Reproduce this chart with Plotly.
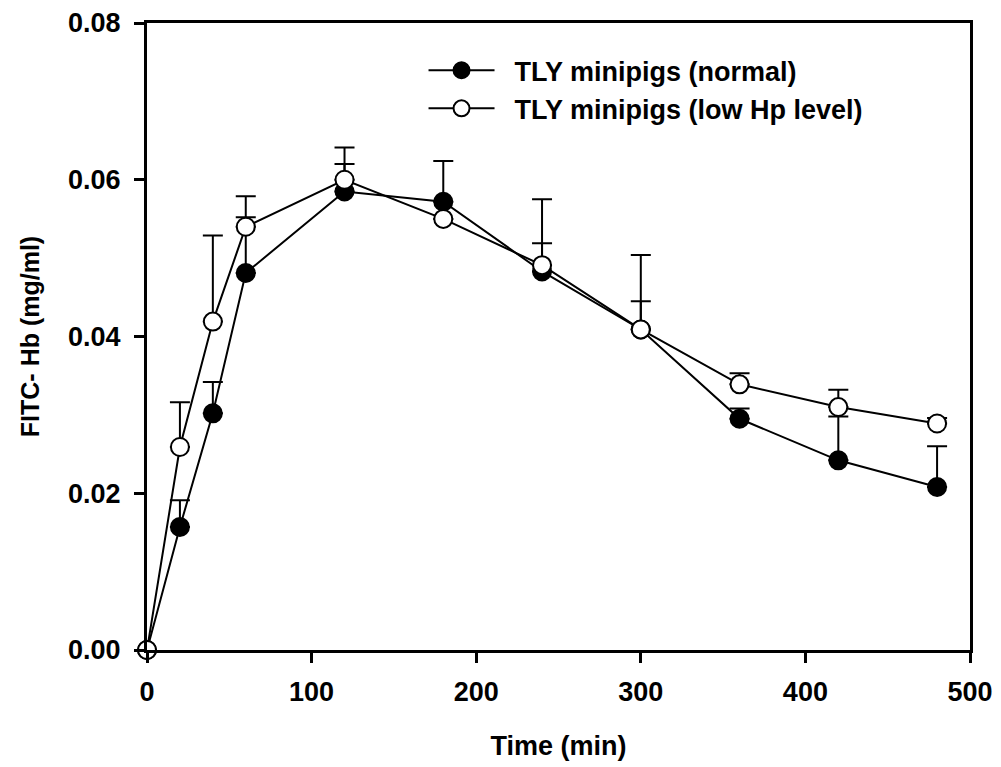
import plotly.graph_objects as go

time_min = [0, 20, 40, 60, 120, 180, 240, 300, 360, 420, 480]

normal_y = [0, 0.0157, 0.0302, 0.0481, 0.0585, 0.0572, 0.0483, 0.0409, 0.0295, 0.0242, 0.0208]
normal_err = [0, 0.0034, 0.0040, 0.0071, 0.0035, 0.0052, 0.0036, 0.0036, 0.0013, 0.0056, 0.0052]

lowhp_y = [0, 0.0259, 0.0419, 0.0540, 0.0600, 0.0550, 0.0491, 0.0409, 0.0339, 0.0310, 0.0289]
lowhp_err = [0, 0.0057, 0.0110, 0.0039, 0.0041, 0.0, 0.0084, 0.0095, 0.0014, 0.0022, 0.0007]

x_ticks = [0, 100, 200, 300, 400, 500]
y_ticks = [0.00, 0.02, 0.04, 0.06, 0.08]

FONT = "Liberation Sans, Arial, sans-serif"
FS = 27
NB = "\u00a0\u00a0"

fig = go.Figure()

fig.add_trace(go.Scatter(
    x=time_min, y=normal_y, name=NB + "<b>TLY minipigs (normal)</b>",
    mode="lines+markers",
    line=dict(color="black", width=2),
    marker=dict(symbol="circle", size=18, color="black", line=dict(color="black", width=2)),
    error_y=dict(type="data", array=normal_err, symmetric=False, arrayminus=[0]*len(normal_err),
                 color="black", thickness=2, width=10),
    cliponaxis=False,
))

fig.add_trace(go.Scatter(
    x=time_min, y=lowhp_y, name=NB + "<b>TLY minipigs (low Hp level)</b>",
    mode="lines+markers",
    line=dict(color="black", width=2),
    marker=dict(symbol="circle", size=18, color="white", line=dict(color="black", width=2)),
    error_y=dict(type="data", array=lowhp_err, symmetric=False, arrayminus=[0]*len(lowhp_err),
                 color="black", thickness=2, width=10),
    cliponaxis=False,
))

fig.update_layout(
    width=1001, height=767,
    margin=dict(l=139, r=39, t=15, b=125),
    paper_bgcolor="white", plot_bgcolor="white",
    font=dict(family=FONT, size=FS, color="black"),
    showlegend=True,
    legend=dict(x=0.336, y=0.963, xanchor="left", yanchor="top",
                bgcolor="rgba(0,0,0,0)", borderwidth=0,
                font=dict(family=FONT, size=FS, color="black"),
                itemwidth=66, tracegroupgap=0),
    xaxis=dict(
        range=[0, 500], tickvals=x_ticks, ticktext=[f"<b>{v}</b>" for v in x_ticks],
        ticks="outside", ticklen=10, tickwidth=3, tickcolor="black",
        showline=True, linewidth=3, linecolor="black", mirror=True,
        showgrid=False, zeroline=False, automargin=False,
        tickfont=dict(family=FONT, size=FS, color="black"),
        ticklabelstandoff=6,
        title=dict(text="<b>Time (min)</b>", font=dict(family=FONT, size=FS, color="black"), standoff=30),
    ),
    yaxis=dict(
        range=[0, 0.08], tickvals=y_ticks, ticktext=[f"<b>{v:.2f}</b>" for v in y_ticks],
        ticks="outside", ticklen=10, tickwidth=3, tickcolor="black",
        showline=True, linewidth=3, linecolor="black", mirror=True,
        showgrid=False, zeroline=False, automargin=False,
        tickfont=dict(family=FONT, size=FS, color="black"),
        ticklabelstandoff=8,
        title=dict(text="<b>FITC- Hb (mg/ml)</b>", font=dict(family=FONT, size=25, color="black"), standoff=22),
    ),
)

fig.write_html("out.html")
